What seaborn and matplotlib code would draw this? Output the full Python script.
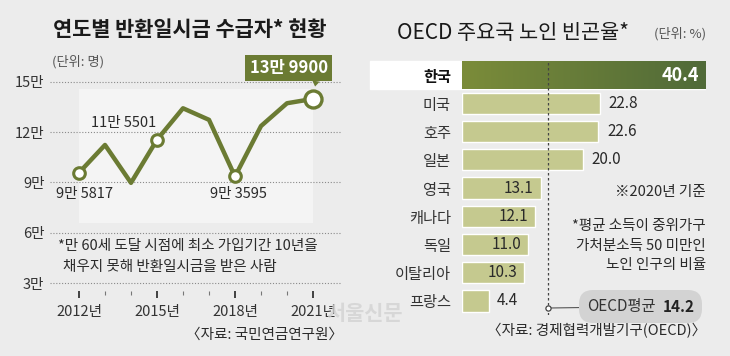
import numpy as np
import pandas as pd
import matplotlib.pyplot as plt
import seaborn as sns
from matplotlib.patches import Rectangle
from matplotlib.colors import LinearSegmentedColormap
from matplotlib.offsetbox import TextArea, HPacker, AnnotationBbox

# 연도별 반환일시금 수급자 (단위: 만 명)
years = [2012, 2013, 2014, 2015, 2016, 2017, 2018, 2019, 2020, 2021]
recipients = [9.5817, 11.24, 8.98, 11.5501, 13.43, 12.74, 9.3595, 12.37, 13.73, 13.99]
label_years = [2012, 2015, 2018]
label_texts = ["9만 5817", "11만 5501", "9만 3595"]
ytick_vals = [3, 6, 9, 12, 15]
ytick_labels = ["3만", "6만", "9만", "12만", "15만"]
xtick_vals = [2012, 2015, 2018, 2021]
xtick_labels = ["2012년", "2015년", "2018년", "2021년"]

# OECD 주요국 노인 빈곤율 (단위: %)
countries = ["한국", "미국", "호주", "일본", "영국", "캐나다", "독일", "이탈리아", "프랑스"]
poverty = [40.4, 22.8, 22.6, 20.0, 13.1, 12.1, 11.0, 10.3, 4.4]
oecd_avg = 14.2

olive = "#6b7b33"
light_bar = "#c5c98f"
bg = "#ececec"
dark = "#2a2a2a"

sns.set_theme(style="white")
plt.rcParams["font.family"] = ["Noto Sans CJK KR", "DejaVu Sans"]

fig = plt.figure(figsize=(7.3, 3.56), dpi=100)
fig.patch.set_facecolor(bg)

# --------- 왼쪽: 선 그래프 ----------
df_line = pd.DataFrame({"year": years, "n": recipients})
ax1 = fig.add_axes([50 / 730, 0.1815, 292 / 730, 0.6118])
ax1.set_facecolor("none")

# 배경의 옅은 패널
ax1.add_patch(Rectangle((2012, 6.6), 9, 8.0, color="#f4f4f4", lw=0, zorder=0))

sns.lineplot(data=df_line, x="year", y="n", color=olive, lw=3.2, ax=ax1, zorder=3)
mk = df_line[df_line.year.isin(label_years)]
sns.scatterplot(data=mk, x="year", y="n", s=70, color="white", edgecolor=olive,
                linewidth=2.2, ax=ax1, zorder=4)
last = df_line[df_line.year == 2021]
sns.scatterplot(data=last, x="year", y="n", s=150, color="white", edgecolor=olive,
                linewidth=2.4, ax=ax1, zorder=4)

offsets = {2012: (6, -21), 2015: (-33, 17), 2018: (3, -18)}
for yr, txt in zip(label_years, label_texts):
    v = recipients[years.index(yr)]
    ax1.annotate(txt, (yr, v), xytext=offsets[yr], textcoords="offset pixels",
                 ha="center", va="center", fontsize=10.5, color=dark)

ax1.annotate("13만 9900", xy=(2021, recipients[-1]), xytext=(2020.06, 15.84),
             ha="center", va="center", fontsize=12, fontweight="bold", color="white",
             bbox=dict(boxstyle="square,pad=0.25", fc=olive, ec="none"),
             arrowprops=dict(arrowstyle="wedge,tail_width=0.45", fc=olive, ec="none",
                             relpos=(0.86, 0.0), shrinkA=0, shrinkB=9),
             annotation_clip=False, zorder=5)

ax1.set_xlim(2010.885, 2022.115)
ax1.set_ylim(2.5, 15.5)
ax1.set_yticks(ytick_vals, ytick_labels)
ax1.set_xticks(xtick_vals, xtick_labels)
ax1.set_xticks(years, minor=True)
ax1.tick_params(axis="y", length=0, pad=4, labelsize=10.5, labelcolor="#333")
ax1.tick_params(axis="x", which="major", length=5, width=1.3, color="#333",
                pad=5, labelsize=10.5, labelcolor="#333", direction="out", bottom=True)
ax1.tick_params(axis="x", which="minor", length=3, width=0.8, color="#777",
                direction="out", bottom=True)
ax1.yaxis.grid(True, linestyle=(0, (1, 1.6)), color="#8a8a8a", lw=0.8)
ax1.set_axisbelow(True)
ax1.set_xlabel("")
ax1.set_ylabel("")
for s in ax1.spines.values():
    s.set_visible(False)

ax1.text(2011.2, 5.2, "*만 60세 도달 시점에 최소 가입기간 10년을", fontsize=10.5,
         color=dark, ha="left", va="center")
ax1.text(2011.4, 3.95, "채우지 못해 반환일시금을 받은 사람", fontsize=10.5,
         color=dark, ha="left", va="center")

fig.text(53 / 730, 0.916, "연도별 반환일시금 수급자* 현황", fontsize=15,
         fontweight="bold", color="#1a1a1a", ha="left", va="center")
fig.text(52 / 730, 0.826, "(단위: 명)", fontsize=9.5, color="#555",
         ha="left", va="center")
fig.text(343 / 730, 0.059, "〈자료: 국민연금연구원〉", fontsize=10.5, color=dark,
         ha="right", va="center")

# --------- 오른쪽: 막대 그래프 ----------
df_bar = pd.DataFrame({"country": countries, "rate": poverty})
ax2 = fig.add_axes([462 / 730, 0.1149, 244 / 730, 0.714])
ax2.set_facecolor("none")
sns.barplot(data=df_bar, y="country", x="rate", orient="h", color=light_bar,
            width=0.75, saturation=1, ax=ax2, zorder=2)

# 한국 막대: 더 두껍게 + 그라데이션
kp = ax2.patches[0]
kp.set_y(-0.48)
kp.set_height(0.96)
grad = LinearSegmentedColormap.from_list("g", ["#7b8c3a", "#506a38"])
im = ax2.imshow(np.linspace(0, 1, 256).reshape(1, -1), cmap=grad, aspect="auto",
                extent=[0, poverty[0], 0.48, -0.48], zorder=2.5)
im.set_clip_path(kp)

for i, v in enumerate(poverty):
    if i == 0:
        ax2.text(v - 1.2, i, f"{v:.1f}", ha="right", va="center", fontsize=13,
                 fontweight="bold", color="white", zorder=4)
    elif v < oecd_avg and v > 8:
        ax2.text(v - 1.2, i, f"{v:.1f}", ha="right", va="center", fontsize=11,
                 color=dark, zorder=4)
    else:
        ax2.text(v + 1.4, i, f"{v:.1f}", ha="left", va="center", fontsize=11,
                 color=dark, zorder=4)

ax2.axvline(oecd_avg, color="#444", lw=0.9, linestyle=(0, (2, 2)), zorder=3)

ax2.scatter([oecd_avg], [8.25], s=14, facecolor="white", edgecolor="#444",
            linewidth=0.9, zorder=5)
box = HPacker(children=[TextArea("OECD평균", textprops=dict(fontsize=11, color="#333")),
                        TextArea("14.2", textprops=dict(fontsize=11, color="#222",
                                                        fontweight="bold"))],
              align="center", pad=0, sep=5)
ab = AnnotationBbox(box, (oecd_avg, 8.25), xybox=(29.6, 8.2), xycoords="data",
                    boxcoords="data", frameon=True, pad=0.5,
                    bboxprops=dict(boxstyle="round,pad=0.5,rounding_size=0.9",
                                   fc="#d3d3d3", ec="none"),
                    arrowprops=dict(arrowstyle="-", color="#555", lw=0.8,
                                    shrinkA=0, shrinkB=2))
ab.set_zorder(4)
ax2.add_artist(ab)

ax2.text(poverty[0], 4.15, "※2020년 기준", ha="right", va="center", fontsize=10.5,
         color=dark)
ax2.text(poverty[0], 6.05, "*평균 소득이 중위가구\n가처분소득 50 미만인\n노인 인구의 비율",
         ha="right", va="center", fontsize=10.5, color=dark, linespacing=1.5)

ax2.set_xlim(0, poverty[0])
ax2.set_ylim(8.5, -0.5)
ax2.set_xticks([])
ax2.set_xlabel("")
ax2.set_ylabel("")
ax2.tick_params(axis="y", length=0, pad=8, labelsize=11, labelcolor="#333")
for lab in ax2.get_yticklabels():
    if lab.get_text() == "한국":
        lab.set_fontweight("bold")
        lab.set_color("#111")
for s in ax2.spines.values():
    s.set_visible(False)

fig.patches.append(Rectangle((370 / 730, (356 - 89) / 356), 92 / 730, 28 / 356,
                             transform=fig.transFigure, color="white", zorder=-1))

fig.text(397 / 730, 0.907, "OECD 주요국 노인 빈곤율*", fontsize=15,
         fontweight="medium", color="#1a1a1a", ha="left", va="center")
fig.text(706 / 730, 0.904, "(단위: %)", fontsize=9.5, color="#555",
         ha="right", va="center")
fig.text(706 / 730, 0.07, "〈자료: 경제협력개발기구(OECD)〉", fontsize=10.5,
         color=dark, ha="right", va="center")

# 워터마크
fig.text(365 / 730, 0.118, "서울신문", fontsize=15, fontweight="bold",
         color="#d2d2d2", ha="center", va="center", alpha=0.8)

fig.savefig("out.png", dpi=100, facecolor=bg)
